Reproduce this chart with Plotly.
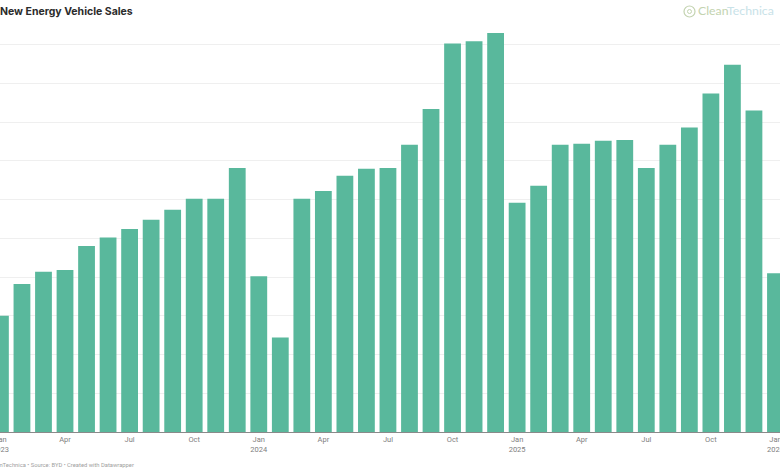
import plotly.graph_objects as go

W, H = 780, 470

# mois de janv. 2023 a janv. 2026
months = [
    "2023-01", "2023-02", "2023-03", "2023-04", "2023-05", "2023-06",
    "2023-07", "2023-08", "2023-09", "2023-10", "2023-11", "2023-12",
    "2024-01", "2024-02", "2024-03", "2024-04", "2024-05", "2024-06",
    "2024-07", "2024-08", "2024-09", "2024-10", "2024-11", "2024-12",
    "2025-01", "2025-02", "2025-03", "2025-04", "2025-05", "2025-06",
    "2025-07", "2025-08", "2025-09", "2025-10", "2025-11", "2025-12",
    "2026-01",
]
sales = [
    150000, 191000, 207000, 209000, 240000, 251000,
    262000, 274000, 287000, 301000, 301000, 341000,
    201000, 122000, 301000, 311000, 331000, 340000,
    341000, 371000, 417000, 501500, 504500, 515000,
    296000, 318000, 371000, 372000, 376000, 377000,
    341000, 371000, 393000, 437000, 474000, 415000,
    205000,
]
tick_months = months[::3]
tick_labels = [
    "Jan<br>2023", "Apr", "Jul", "Oct",
    "Jan<br>2024", "Apr", "Jul", "Oct",
    "Jan<br>2025", "Apr", "Jul", "Oct",
    "Jan<br>2026",
]
grid_values = [0, 50000, 100000, 150000, 200000, 250000, 300000, 350000, 400000, 450000, 500000]

fig = go.Figure()

fig.add_trace(go.Bar(
    x=months,
    y=sales,
    marker_color="#59b89c",
    marker_line_width=0,
))

fig.update_layout(
    width=W,
    height=H,
    margin=dict(l=0, r=0, t=6, b=38, autoexpand=False),
    plot_bgcolor="white",
    paper_bgcolor="white",
    showlegend=False,
    bargap=0.22,
    font=dict(family="Roboto", color="#7a7a7a"),
    xaxis=dict(
        type="category",
        automargin=False,
        range=[-0.02, 36.21],
        tickmode="array",
        tickvals=tick_months,
        ticktext=tick_labels,
        ticks="",
        ticklabeloverflow="allow",
        tickfont=dict(size=7.5, color="#808080"),
        showgrid=False,
        showline=True,
        linecolor="#8a8a8a",
        linewidth=1,
    ),
    yaxis=dict(
        automargin=False,
        range=[0, 550000],
        tickmode="array",
        tickvals=grid_values,
        showticklabels=False,
        gridcolor="#efefef",
        gridwidth=1,
        zeroline=False,
    ),
)

# Titre et pied de page coupes par le bord gauche, comme sur l'original
fig.add_annotation(
    text="<b>New Energy Vehicle Sales</b>",
    xref="paper", yref="paper",
    x=-2 / W, y=1 - 5.5 / (H - 44),
    xanchor="left", yanchor="middle",
    showarrow=False,
    font=dict(family="Inter", size=10.5, color="#2b2b2b"),
)
fig.add_annotation(
    text="CleanTechnica • Source: BYD • Created with Datawrapper",
    xref="paper", yref="paper",
    x=-14 / W, y=-(465 - 432) / (H - 44),
    xanchor="left", yanchor="middle",
    showarrow=False,
    font=dict(family="Roboto", size=5.8, color="#a0a0a0"),
)

# Logo
fig.add_annotation(
    text='<span style="color:#c3d3b0">Clean</span><span style="color:#c8e2e8">Technica</span>',
    xref="paper", yref="paper",
    x=776 / W, y=1 - 5 / (H - 44),
    xanchor="right", yanchor="middle",
    showarrow=False,
    font=dict(family="Lato", size=12.3),
)
fig.add_shape(
    type="circle",
    xref="paper", yref="paper",
    x0=684 / W, x1=695 / W,
    y0=1 - 11 / (H - 44), y1=1 - 0 / (H - 44),
    line=dict(color="#c3d3b0", width=1.2),
)
fig.add_shape(
    type="circle",
    xref="paper", yref="paper",
    x0=687.5 / W, x1=691.5 / W,
    y0=1 - 7.5 / (H - 44), y1=1 - 3.5 / (H - 44),
    line=dict(color="#c3d3b0", width=1),
)

# la page ne doit pas decaler le graphique
fig.write_html(
    "out.html",
    config={"displayModeBar": False},
    post_script="document.body.style.margin='0';document.documentElement.style.overflow='hidden';",
)
